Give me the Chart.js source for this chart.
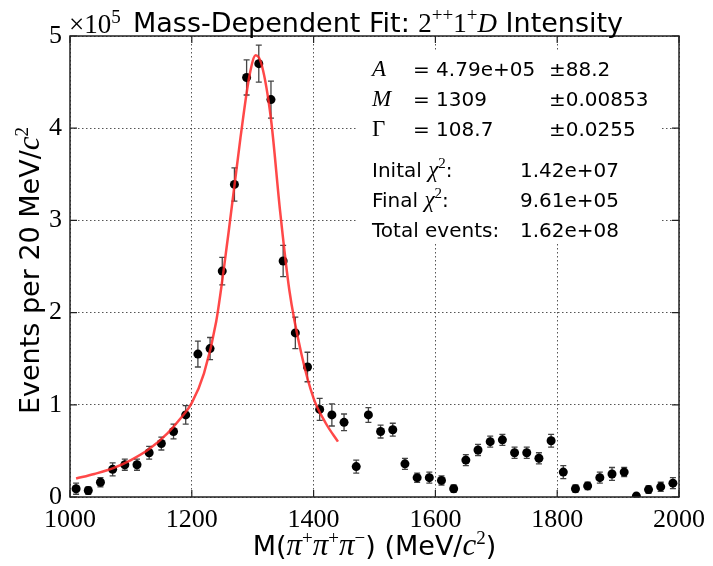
<!DOCTYPE html>
<html>
<head>
<meta charset="utf-8">
<script src="https://cdn.jsdelivr.net/npm/chart.js@4/dist/chart.umd.min.js"></script>
<style>
  body { margin: 0; background: #fff; }
  #wrap { width: 713px; height: 566px; position: relative; }
</style>
</head>
<body>
<div id="wrap"><canvas id="fitChart"></canvas></div>
<script>
// bin centres (MeV/c^2), events in units of 1e5
const massBins = [1010, 1030, 1050, 1070, 1090, 1110, 1130, 1150, 1170, 1190,
                  1210, 1230, 1250, 1270, 1290, 1310, 1330, 1350, 1370, 1390,
                  1410, 1430, 1450, 1470, 1490, 1510, 1530, 1550, 1570, 1590,
                  1610, 1630, 1650, 1670, 1690, 1710, 1730, 1750, 1770, 1790,
                  1810, 1830, 1850, 1870, 1890, 1910, 1930, 1950, 1970, 1990];
const events = [0.09, 0.07, 0.16, 0.30, 0.35, 0.35, 0.48, 0.58, 0.71, 0.89,
                1.55, 1.61, 2.45, 3.39, 4.55, 4.70, 4.31, 2.56, 1.78, 1.41,
                0.95, 0.89, 0.81, 0.33, 0.89, 0.71, 0.73, 0.36, 0.21, 0.21,
                0.18, 0.09, 0.40, 0.51, 0.60, 0.62, 0.48, 0.48, 0.42, 0.61,
                0.27, 0.09, 0.12, 0.21, 0.25, 0.27, 0.01, 0.08, 0.11, 0.15];
const errors = [0.06, 0.04, 0.05, 0.07, 0.06, 0.06, 0.07, 0.07, 0.08, 0.10,
                0.14, 0.12, 0.15, 0.18, 0.19, 0.20, 0.20, 0.17, 0.17, 0.16,
                0.12, 0.12, 0.09, 0.07, 0.08, 0.07, 0.07, 0.06, 0.05, 0.06,
                0.05, 0.04, 0.06, 0.06, 0.06, 0.06, 0.06, 0.06, 0.06, 0.07,
                0.07, 0.04, 0.04, 0.06, 0.07, 0.05, 0.03, 0.04, 0.05, 0.06];

// fitted curve
const fitMass = [1010, 1040, 1070, 1100, 1130, 1160, 1180, 1200, 1220, 1240,
                 1260, 1280, 1295, 1305, 1315, 1330, 1345, 1360, 1380, 1400,
                 1420, 1440];
const fitValues = [0.20, 0.25, 0.31, 0.40, 0.52, 0.69, 0.84, 1.02, 1.34, 1.90,
                   2.85, 3.90, 4.58, 4.79, 4.68, 4.10, 3.10, 2.25, 1.55, 1.07,
                   0.80, 0.60];

const xTicks = [1000, 1200, 1400, 1600, 1800, 2000];
const yTicks = [0, 1, 2, 3, 4, 5];

const fitParams = [
    ['A', '4.79e+05', '\u00b188.2'],
    ['M', '1309', '\u00b10.00853'],
    ['\u0393', '108.7', '\u00b10.0255']
];
const fitStats = [
    ['Inital ', '1.42e+07'],
    ['Final ', '9.61e+05'],
    ['Total events:', '1.62e+08']
];

const SANS = 'DejaVu Sans';
const SERIF = 'Liberation Serif';

// draw a row of differently styled text pieces: [text, font, dy]
function drawRich(ctx, parts, x, y, align) {
    let total = 0;
    parts.forEach(p => { ctx.font = p[1]; total += ctx.measureText(p[0]).width; });
    let cx = align === 'center' ? x - total / 2 : x;
    parts.forEach(p => {
        ctx.font = p[1];
        ctx.fillText(p[0], cx, y + (p[2] || 0));
        cx += ctx.measureText(p[0]).width;
    });
}

const decorPlugin = {
    id: 'decor',
    beforeDatasetsDraw(chart) {
        const ctx = chart.ctx;
        const xs = chart.scales.x, ys = chart.scales.y;
        ctx.save();
        // white box behind fit results
        ctx.fillStyle = '#fff';
        ctx.fillRect(358, 50, 304, 193);
        // error bars
        ctx.strokeStyle = '#444';
        ctx.lineWidth = 1.3;
        massBins.forEach((m, i) => {
            const px = xs.getPixelForValue(m);
            const top = ys.getPixelForValue(events[i] + errors[i]);
            const bot = ys.getPixelForValue(Math.max(0, events[i] - errors[i]));
            ctx.beginPath();
            ctx.moveTo(px, top); ctx.lineTo(px, bot);
            ctx.moveTo(px - 3, top); ctx.lineTo(px + 3, top);
            ctx.moveTo(px - 3, bot); ctx.lineTo(px + 3, bot);
            ctx.stroke();
        });
        ctx.restore();
    },
    afterDraw(chart) {
        const ctx = chart.ctx;
        const a = chart.chartArea;
        const xs = chart.scales.x, ys = chart.scales.y;
        ctx.save();
        // frame
        ctx.strokeStyle = '#222';
        ctx.lineWidth = 1.5;
        ctx.strokeRect(a.left, a.top, a.right - a.left, a.bottom - a.top);
        // inward ticks on all sides
        ctx.lineWidth = 1.2;
        ctx.beginPath();
        xTicks.forEach(v => {
            const px = xs.getPixelForValue(v);
            ctx.moveTo(px, a.bottom); ctx.lineTo(px, a.bottom - 7);
            ctx.moveTo(px, a.top); ctx.lineTo(px, a.top + 7);
        });
        yTicks.forEach(v => {
            const py = ys.getPixelForValue(v);
            ctx.moveTo(a.left, py); ctx.lineTo(a.left + 7, py);
            ctx.moveTo(a.right, py); ctx.lineTo(a.right - 7, py);
        });
        ctx.stroke();

        ctx.fillStyle = '#000';
        ctx.textBaseline = 'alphabetic';
        // multiplier and title
        drawRich(ctx, [['\u00d710', '27px ' + SERIF], ['5', '19px ' + SERIF, -10]], 69, 33);
        drawRich(ctx, [
            ['Mass-Dependent Fit: ', '27px ' + SANS],
            ['2', '27px ' + SERIF],
            ['++', '19px ' + SERIF, -11],
            ['1', '27px ' + SERIF],
            ['+', '19px ' + SERIF, -11],
            ['D', 'italic 27px ' + SERIF],
            [' Intensity', '27px ' + SANS]
        ], 133, 32);

        // x axis label
        const sup = '19px ' + SERIF, pi = 'italic 31px ' + SERIF, lab = '27px ' + SANS;
        drawRich(ctx, [
            ['M(', lab], ['\u03c0', pi], ['+', sup, -11], ['\u03c0', pi], ['+', sup, -11],
            ['\u03c0', pi], ['\u2212', sup, -11], [') (MeV/', lab],
            ['c', pi], ['2', sup, -11], [')', lab]
        ], (a.left + a.right) / 2, 555, 'center');

        // y axis label
        ctx.save();
        ctx.translate(39, (a.top + a.bottom) / 2 + 4);
        ctx.rotate(-Math.PI / 2);
        drawRich(ctx, [['Events per 20 MeV/', lab], ['c', pi], ['2', sup, -11]], 0, 0, 'center');
        ctx.restore();

        // fit results
        const body = '20px ' + SANS;
        fitParams.forEach((r, i) => {
            const y = 76 + i * 30;
            drawRich(ctx, [[r[0], (r[0] === '\u0393' ? '' : 'italic ') + '23px ' + SERIF]], 372, y);
            drawRich(ctx, [['= ' + r[1], body]], 413, y);
            drawRich(ctx, [[r[2], body]], 549, y);
        });
        fitStats.forEach((r, i) => {
            const y = 177 + i * 30;
            const parts = [[r[0], body]];
            if (i < 2) {
                parts.push(['\u03c7', 'italic 23px ' + SERIF]);
                parts.push(['2', '15px ' + SERIF, -9]);
                parts.push([':', body]);
            }
            drawRich(ctx, parts, 372, y);
            drawRich(ctx, [[r[1], body]], 520, y);
        });
        ctx.restore();
    }
};

const ctx = document.getElementById('fitChart').getContext('2d');
const fitChart = new Chart(ctx, {
    type: 'scatter',
    data: {
        datasets: [
            {
                label: 'data',
                data: massBins.map((m, i) => ({ x: m, y: events[i] })),
                showLine: false,
                pointRadius: 4.5,
                pointBackgroundColor: '#000',
                pointBorderColor: '#000',
                pointBorderWidth: 0,
                order: 2
            },
            {
                label: 'fit',
                type: 'line',
                data: fitMass.map((m, i) => ({ x: m, y: fitValues[i] })),
                borderColor: 'rgba(255, 40, 40, 0.85)',
                borderWidth: 2.5,
                pointRadius: 0,
                fill: false,
                tension: 0.4,
                cubicInterpolationMode: 'monotone',
                order: 1
            }
        ]
    },
    options: {
        responsive: true,
        maintainAspectRatio: false,
        animation: false,
        events: [],
        layout: { padding: { top: 36, right: 29, left: 0, bottom: 0 } },
        scales: {
            x: {
                type: 'linear',
                min: 1000,
                max: 2000,
                afterFit: s => { s.height = 69; },
                afterBuildTicks: s => { s.ticks = xTicks.map(v => ({ value: v })); },
                ticks: {
                    color: '#000',
                    padding: 8,
                    maxRotation: 0,
                    font: { family: SERIF, size: 26 },
                    callback: v => String(v)
                },
                grid: { color: '#555', lineWidth: 1, drawTicks: false },
                border: { display: false, dash: [1.5, 2.5] }
            },
            y: {
                min: 0,
                max: 5,
                afterFit: s => { s.width = 70; },
                afterBuildTicks: s => { s.ticks = yTicks.map(v => ({ value: v })); },
                ticks: {
                    color: '#000',
                    padding: 8,
                    font: { family: SERIF, size: 26 },
                    callback: v => String(v)
                },
                grid: { color: '#555', lineWidth: 1, drawTicks: false },
                border: { display: false, dash: [1.5, 2.5] }
            }
        },
        plugins: {
            legend: { display: false },
            tooltip: { enabled: false }
        }
    },
    plugins: [decorPlugin]
});
</script>
</body>
</html>
